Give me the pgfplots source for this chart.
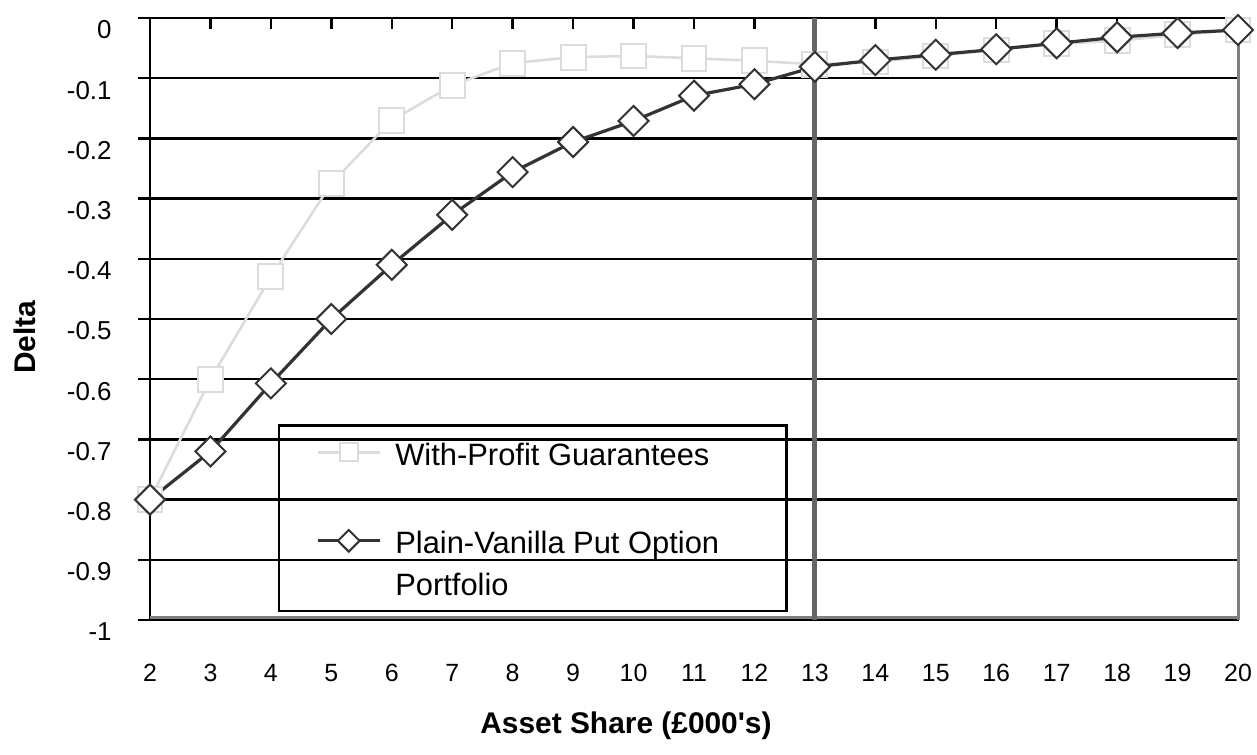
\documentclass[border=0pt]{standalone}
\usepackage{fontspec}
\setmainfont{Liberation Sans}
\usepackage{pgfplots}
\pgfplotsset{compat=1.18}
\definecolor{lgray}{HTML}{DCDCDC}
\definecolor{dgray}{HTML}{333333}
\definecolor{vgray}{HTML}{666666}
\definecolor{bgray}{HTML}{808080}
\begin{document}
\begin{tikzpicture}
\begin{axis}[
  name=ax,
  scale only axis, width=544bp, height=301bp,
  xmin=2, xmax=20, ymin=-1, ymax=0,
  clip=false,
  xtick={2,...,20},
  ytick={-1,-0.9,-0.8,-0.7,-0.6,-0.5,-0.4,-0.3,-0.2,-0.1,0},
  yticklabels={-1,-0.9,-0.8,-0.7,-0.6,-0.5,-0.4,-0.3,-0.2,-0.1,0},
  xtick pos=upper, xticklabel pos=lower, ytick pos=left,
  tick align=inside,
  major tick length=5.5bp,
  tick style={black, line width=1.2bp},
  ytick style={xshift=-6bp},
  /pgf/number format/assume math mode=true,
  xticklabel style={font=\fontsize{12.5}{14}\selectfont, anchor=center, inner sep=0pt, yshift=-26.5bp},
  yticklabel style={font=\fontsize{13}{15}\selectfont, anchor=east, inner sep=0pt, xshift=-19bp, yshift=-6bp},
  ymajorgrids,
  major grid style={black, line width=1.2bp},
  axis line style={black, line width=1.2bp},
  xlabel={Asset Share (£000\textquotesingle s)},
  ylabel={Delta},
  xlabel style={font=\bfseries\fontsize{15}{18}\selectfont, at={(axis description cs:0.4375,-0.176)}, anchor=center},
  ylabel style={font=\bfseries\fontsize{15}{18}\selectfont, at={(axis description cs:-0.1149,0.47)}, anchor=center},
  legend cell align=left,
  legend image code/.code={
    \draw[mark repeat=2, mark phase=2, every mark/.append style={scale=0.72}]
      plot coordinates {(0bp,6.5bp) (15.5bp,6.5bp) (31bp,6.5bp)};
  },
  legend style={
    at={(axis description cs:0.1176,0.0133)}, anchor=south west,
    draw=black, line width=1.2bp, fill=none,
    inner xsep=18.5bp, inner ysep=4bp,
    row sep=0pt, column sep=5bp,
    font=\fontsize{15.5}{20.5}\selectfont,
    cells={anchor=base west, inner sep=0pt},
  },
]
% borders
\addplot[bgray, line width=1.5bp, forget plot] coordinates {(20,-1) (20,0)};
\addplot[bgray, line width=1.2bp, forget plot, yshift=1.2bp] coordinates {(2,-1) (20,-1)};

\addplot[lgray, line width=1.3bp, mark=square*, mark size=6.2bp,
  mark options={fill=white, draw=lgray, line width=1bp}]
coordinates {
(2,-0.80) (3,-0.60) (4,-0.43) (5,-0.275) (6,-0.17) (7,-0.112) (8,-0.075)
(9,-0.065) (10,-0.063) (11,-0.067) (12,-0.071) (13,-0.077) (14,-0.073)
(15,-0.063) (16,-0.053) (17,-0.043) (18,-0.038) (19,-0.028) (20,-0.02)
};
\addlegendentry{\rule{0pt}{14bp}With-Profit Guarantees}

\addplot[dgray, line width=1.6bp, mark=square*, mark size=5.3bp,
  mark options={rotate=45, fill=white, draw=dgray, line width=1bp}]
coordinates {
(2,-0.80) (3,-0.72) (4,-0.607) (5,-0.50) (6,-0.41) (7,-0.327) (8,-0.256)
(9,-0.206) (10,-0.171) (11,-0.129) (12,-0.11) (13,-0.081) (14,-0.070)
(15,-0.061) (16,-0.052) (17,-0.042) (18,-0.032) (19,-0.025) (20,-0.02)
};
\addlegendentry{\rule{0pt}{38.8bp}\makebox[175bp][l]{Plain-Vanilla Put Option}}

\addlegendimage{empty legend}
\addlegendentry{\rule{0pt}{15.5bp}Portfolio}

\addplot[vgray, line width=2.5bp, forget plot] coordinates {(13,-1) (13,0)};
\end{axis}
\pgfresetboundingbox
\path[use as bounding box] ([xshift=-75bp,yshift=-67.5bp]ax.south west) rectangle ([xshift=9.5bp,yshift=9bp]ax.north east);
\end{tikzpicture}
\end{document}
